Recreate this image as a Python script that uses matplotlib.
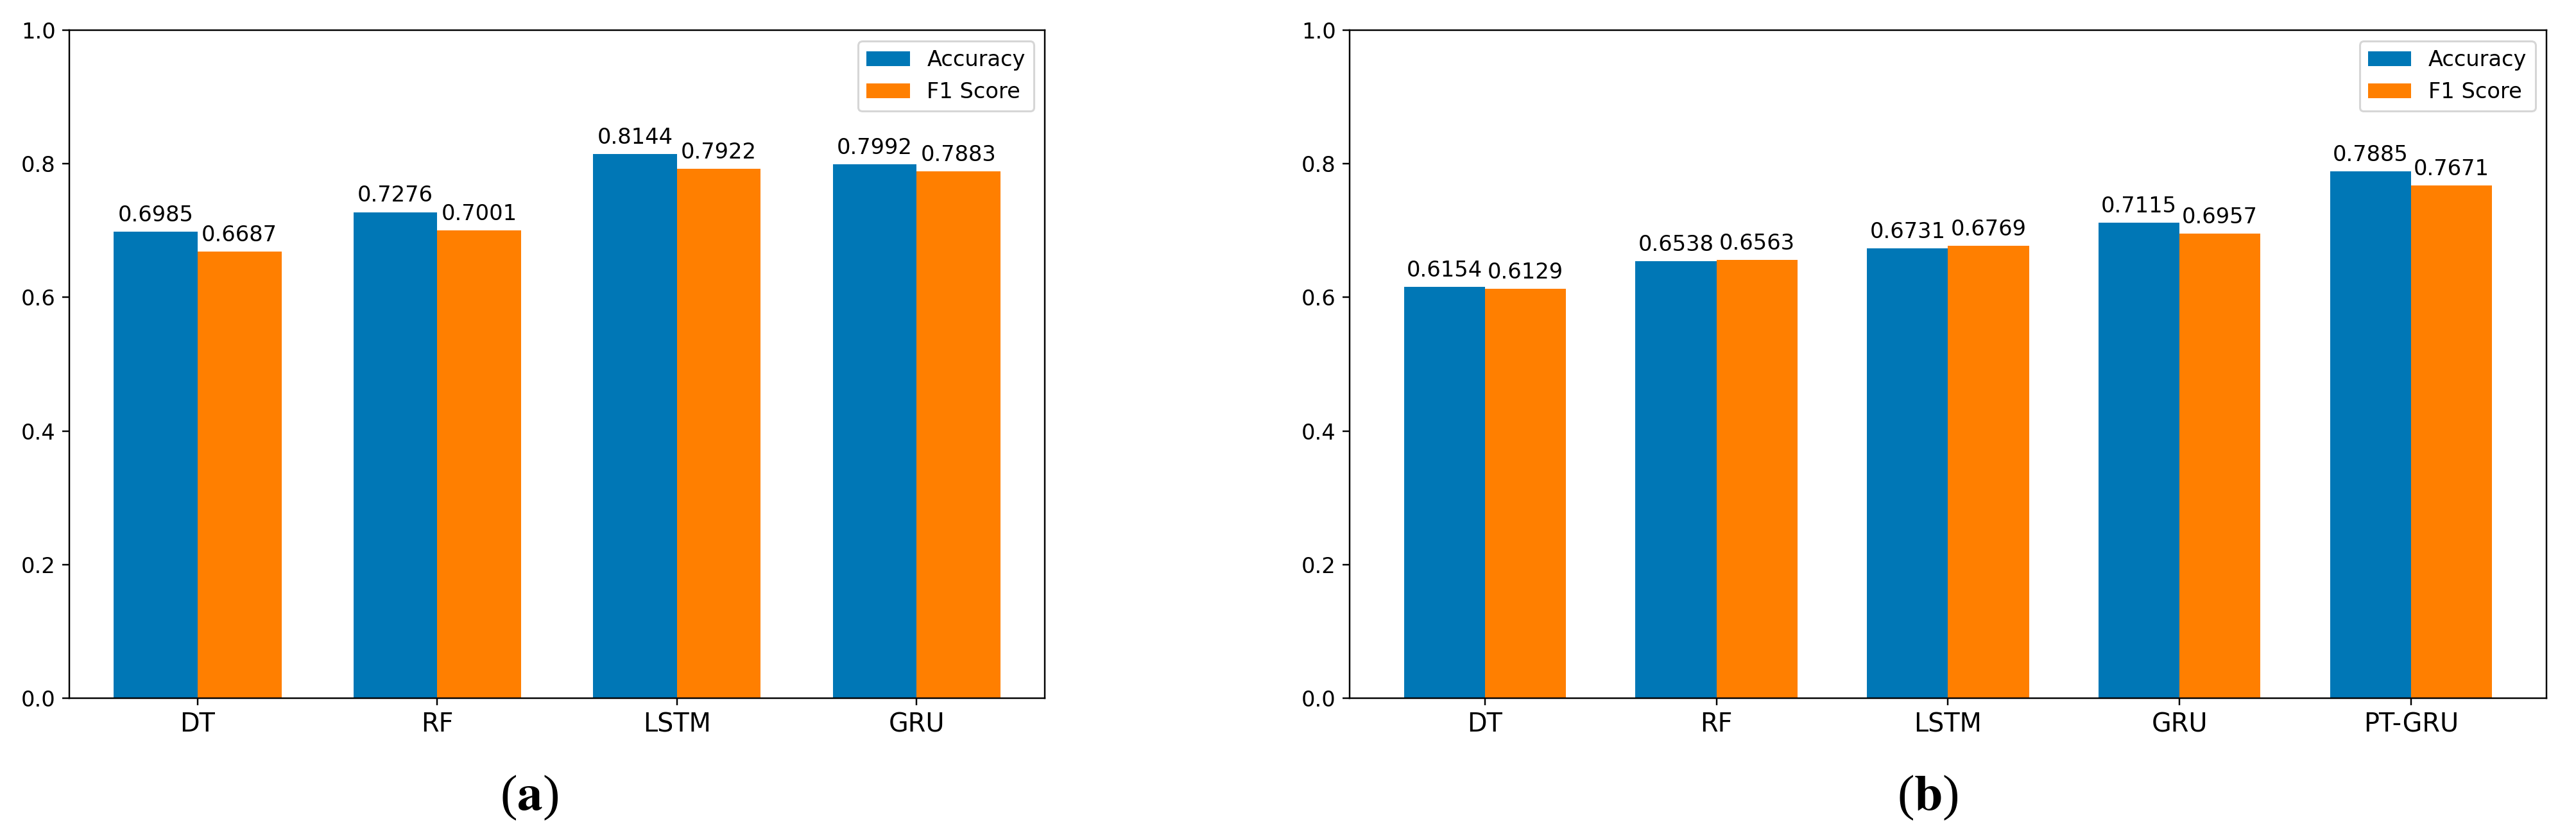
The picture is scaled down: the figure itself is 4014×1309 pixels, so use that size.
import numpy as np
import matplotlib
matplotlib.use("Agg")
import matplotlib.pyplot as plt

# data
models_a = ["DT", "RF", "LSTM", "GRU"]
acc_a = [0.6985, 0.7276, 0.8144, 0.7992]
f1_a = [0.6687, 0.7001, 0.7922, 0.7883]

models_b = ["DT", "RF", "LSTM", "GRU", "PT-GRU"]
acc_b = [0.6154, 0.6538, 0.6731, 0.7115, 0.7885]
f1_b = [0.6129, 0.6563, 0.6769, 0.6957, 0.7671]

yticks = [0.0, 0.2, 0.4, 0.6, 0.8, 1.0]

BLUE = "#0077b6"
ORANGE = "#ff7f00"
DPI = 220
FS = 11

plt.rcParams["font.family"] = ["DejaVu Sans Condensed", "DejaVu Sans"]
plt.rcParams["mathtext.fontset"] = "stix"


def draw_panel(ax, models, acc, f1):
    x = np.arange(len(models))
    width = 0.35
    b1 = ax.bar(x - width / 2, acc, width, label="Accuracy", color=BLUE)
    b2 = ax.bar(x + width / 2, f1, width, label="F1 Score", color=ORANGE)
    ax.bar_label(b1, labels=["%.4f" % v for v in acc], padding=3, fontsize=FS)
    ax.bar_label(b2, labels=["%.4f" % v for v in f1], padding=3, fontsize=FS)
    ax.set_xticks(x)
    ax.set_xticklabels(models, fontsize=13)
    ax.set_ylim(0, 1.0)
    ax.set_yticks(yticks)
    ax.tick_params(axis="y", labelsize=FS)
    ax.legend(loc="upper right", fontsize=FS)


fig = plt.figure(figsize=(4014 / DPI, 1309 / DPI), dpi=DPI)
ax1 = fig.add_axes([0.0269, 0.1688, 0.3787, 0.7953])
ax2 = fig.add_axes([0.5239, 0.1688, 0.4646, 0.7953])

draw_panel(ax1, models_a, acc_a, f1_a)
draw_panel(ax2, models_b, acc_b, f1_b)

fig.text(825 / 4014, 1 - 1243 / 1309, r"($\mathbf{a}$)", fontsize=26,
         family="Liberation Serif", ha="center", va="center")
fig.text(3004 / 4014, 1 - 1243 / 1309, r"($\mathbf{b}$)", fontsize=26,
         family="Liberation Serif", ha="center", va="center")

fig.savefig("out.png", dpi=DPI)
